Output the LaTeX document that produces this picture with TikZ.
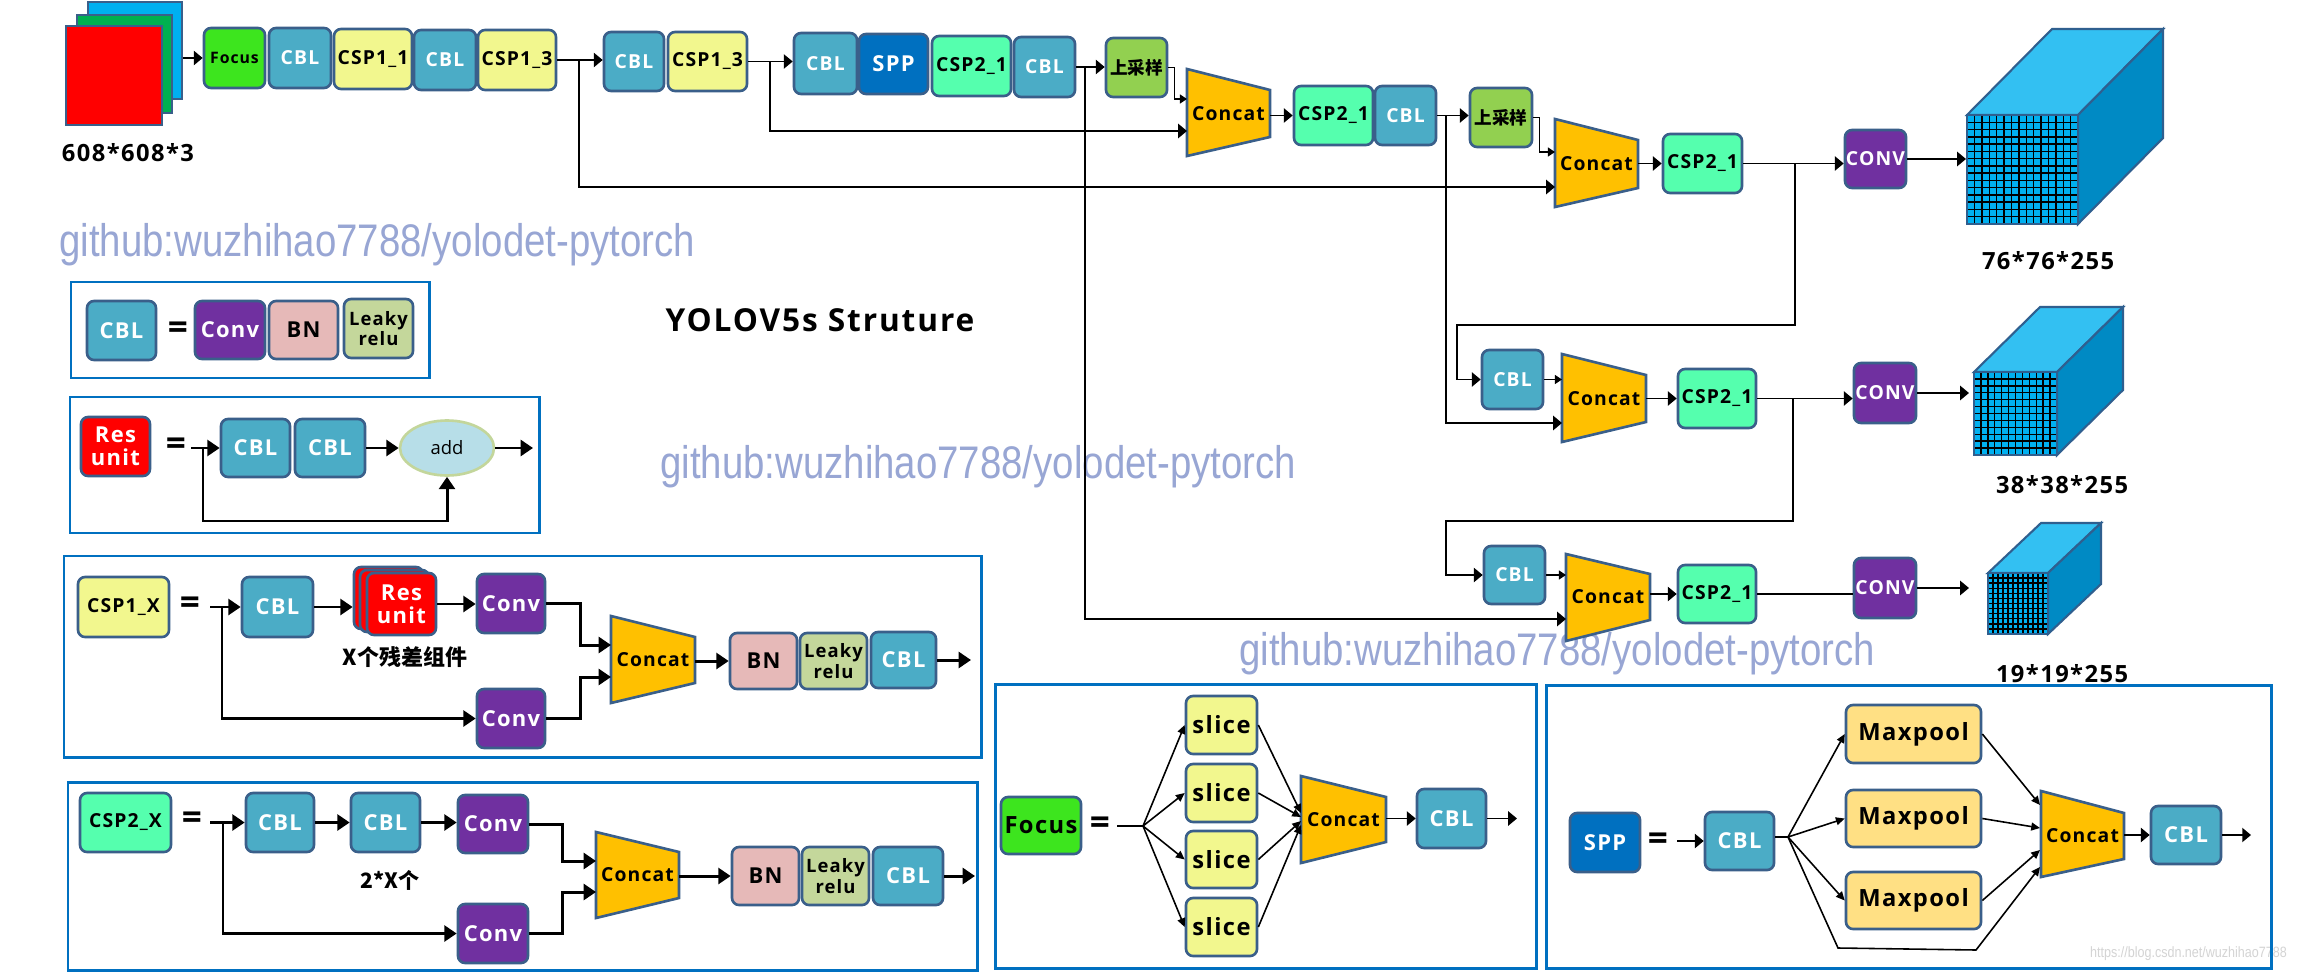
\documentclass[tikz,border=0pt]{standalone}
\usepackage{fontspec}
\setmainfont{Open Sans}[LetterSpace=6]
\newfontfamily\cjk{Noto Sans CJK SC}
\newfontfamily\wmfont{Liberation Sans}[FakeStretch=0.84]
\newfontfamily\plainfont{Open Sans}
\usetikzlibrary{arrows.meta,shapes.geometric}
\definecolor{bord}{HTML}{3A5F8A}
\definecolor{cblcol}{HTML}{4BACC6}
\definecolor{focuscol}{HTML}{3DE51E}
\definecolor{csp1col}{HTML}{F2F78E}
\definecolor{csp2col}{HTML}{55FFAE}
\definecolor{sppcol}{HTML}{0070C0}
\definecolor{upcol}{HTML}{92D050}
\definecolor{concol}{HTML}{FFC000}
\definecolor{convcol}{HTML}{7030A0}
\definecolor{bncol}{HTML}{E6B9B8}
\definecolor{lrcol}{HTML}{C4D79B}
\definecolor{rescol}{HTML}{FF0000}
\definecolor{mpcol}{HTML}{FFE084}
\definecolor{addcol}{HTML}{B7DEE8}
\definecolor{addbord}{HTML}{C3D69B}
\definecolor{framecol}{HTML}{0070C0}
\definecolor{wmcol}{RGB}{152,166,212}
\definecolor{cubefront}{HTML}{00B0F0}
\definecolor{cubetop}{HTML}{33C0F2}
\definecolor{cubeside}{HTML}{008AC4}
\definecolor{cubebord}{HTML}{2F5F8F}
\definecolor{imgblue}{HTML}{00B0F0}
\definecolor{imggreen}{HTML}{00B050}
\definecolor{csdncol}{HTML}{D4D4D4}

\tikzset{
  bx/.style={draw=bord, line width=1.5pt, rounded corners=4pt, inner sep=0pt, align=center},
  imgS/.style={draw=bord, line width=1pt, inner sep=0pt},
  cblS/.style={bx, fill=cblcol, text=white},
  focusS/.style={bx, fill=focuscol, text=black},
  csp1S/.style={bx, fill=csp1col, text=black},
  csp2S/.style={bx, fill=csp2col, text=black},
  sppS/.style={bx, fill=sppcol, text=white},
  upS/.style={bx, fill=upcol, text=black},
  convS/.style={bx, fill=convcol, text=white},
  bnS/.style={bx, fill=bncol, text=black},
  lrS/.style={bx, fill=lrcol, text=black},
  resS/.style={bx, fill=rescol, text=white},
  mpS/.style={bx, fill=mpcol, text=black},
  f8/.style={font=\bfseries\fontsize{9}{9}\selectfont},
  f10/.style={font=\bfseries\fontsize{11}{11}\selectfont},
  f12/.style={font=\bfseries\fontsize{12.5}{13}\selectfont},
  f13/.style={font=\bfseries\fontsize{13.5}{14}\selectfont},
  flr/.style={font=\bfseries\fontsize{10.5}{11.5}\selectfont},
  fcj/.style={font=\cjk\bfseries\fontsize{10}{11}\selectfont},
  concatS/.style={draw=bord, line width=1.5pt, fill=concol},
  ctext/.style={font=\bfseries\fontsize{11}{12}\selectfont, inner sep=0pt},
  cubeS/.style={draw=cubebord, line width=1.2pt},
  gridS/.style={draw=black, line width=0.8pt},
  frameS/.style={draw=framecol, line width=1.7pt},
  dimS/.style={font=\bfseries\fontsize{13.5}{15}\selectfont},
  eqS/.style={font=\plainfont\bfseries\fontsize{20}{20}\selectfont, inner sep=0pt},
  wmS/.style={font=\wmfont\fontsize{26}{26}\selectfont, text=wmcol, inner sep=0pt, anchor=west},
  ln/.style={line width=1pt},
  arr/.style={line width=1.1pt, -{Triangle[length=5pt,width=8pt]}},
  arrs/.style={line width=0.9pt, -{Triangle[length=4pt,width=5pt]}},
  arrL/.style={line width=1.7pt, -{Triangle[length=7pt,width=9pt]}},
  lnL/.style={line width=1.7pt},
  arrt/.style={line width=0.9pt, -{Triangle[length=5pt,width=4.5pt]}},
}

\newcommand{\boxat}[7]{\node[#2,minimum width={(#5-#3)*0.02cm},minimum height={(#6-#4)*0.02cm}] (#1) at ({(#3+#5)/2},{(#4+#6)/2}) {#7};}
\newcommand{\concatat}[7]{%
  \draw[concatS] (#2,#3) -- (#5,#6) -- (#5,#7) -- (#2,#4) -- cycle;
  \node[ctext] (#1) at ({(#2+#5)/2},{(#6+#7)/2}) {Concat};}
\newcommand{\cubeat}[7]{%
  \draw[cubeS,fill=cubetop] (#1,#2) -- ({#1+#5},{#2-#6}) -- ({#3+#5},{#2-#6}) -- (#3,#2) -- cycle;
  \draw[cubeS,fill=cubeside] (#3,#2) -- ({#3+#5},{#2-#6}) -- ({#3+#5},{#4-#6}) -- (#3,#4) -- cycle;
  \fill[cubefront] (#1,#2) rectangle (#3,#4);
  \foreach \k in {1,...,#7}{
    \draw[gridS] ({#1+\k*(#3-#1)/(#7+1)},#2) -- ({#1+\k*(#3-#1)/(#7+1)},#4);
    \draw[gridS] (#1,{#2+\k*(#4-#2)/(#7+1)}) -- (#3,{#2+\k*(#4-#2)/(#7+1)});
  }
  \draw[cubeS] (#1,#2) rectangle (#3,#4);}

\begin{document}
\begin{tikzpicture}[x=0.02cm,y=-0.02cm]
\fill[white] (0,0) rectangle (2304,973);
\useasboundingbox (0,0) rectangle (2304,973);

% ---------- watermarks and title ----------
\node[wmS] (wm1) at (59,245) {github:wuzhihao7788/yolodet-pytorch};
\node[wmS] (wm2) at (660,467) {github:wuzhihao7788/yolodet-pytorch};
\node[wmS] (wm3) at (1239,654) {github:wuzhihao7788/yolodet-pytorch};
\node[font=\bfseries\fontsize{18}{19}\selectfont] (title) at (820,320) {YOLOV5s Struture};
\node[font=\wmfont\fontsize{8.5}{9}\selectfont, text=csdncol, anchor=east] (csdn) at (2293,954) {https://blog.csdn.net/wuzhihao7788};

% ---------- main network ----------
\boxat{imgb}{imgS,fill=imgblue}{88}{2}{182}{99}{}
\boxat{imgg}{imgS,fill=imggreen}{77}{15}{172}{113}{}
\boxat{imgr}{imgS,fill=rescol}{66}{26}{162}{125}{}
\node[dimS] (lab608) at (128,153) {608*608*3};

\boxat{focus1}{focusS,f8}{204}{28}{265}{88}{Focus}
\boxat{cbl1}{cblS,f10}{269}{28}{331}{88}{CBL}
\boxat{csp11}{csp1S,f10}{334}{29}{412}{89}{CSP1\_1}
\boxat{cbl2}{cblS,f10}{414}{30}{476}{90}{CBL}
\boxat{csp13a}{csp1S,f10}{478}{30}{556}{90}{CSP1\_3}
\boxat{cbl3}{cblS,f10}{604}{32}{664}{91}{CBL}
\boxat{csp13b}{csp1S,f10}{668}{32}{747}{91}{CSP1\_3}
\boxat{cbl4}{cblS,f10}{794}{33}{857}{94}{CBL}
\boxat{spp1}{sppS,f12}{859}{34}{928}{94}{SPP}
\boxat{csp21a}{csp2S,f10}{932}{36}{1011}{96}{CSP2\_1}
\boxat{cbl5}{cblS,f10}{1014}{37}{1075}{97}{CBL}
\boxat{up1}{upS,fcj}{1106}{38}{1167}{97}{上采样}
\concatat{concat1}{1187}{69}{156}{1270}{90}{137}
\boxat{csp21b}{csp2S,f10}{1294}{86}{1373}{145}{CSP2\_1}
\boxat{cbl6}{cblS,f10}{1375}{86}{1436}{145}{CBL}
\boxat{up2}{upS,fcj}{1470}{88}{1532}{147}{上采样}
\concatat{concat2}{1555}{119}{207}{1638}{140}{188}
\boxat{csp21c}{csp2S,f10}{1663}{134}{1742}{193}{CSP2\_1}
\boxat{conv1}{convS,f10}{1845}{130}{1906}{188}{CONV}
\cubeat{1967}{115}{2078}{224}{85}{86}{14}
\node[dimS] (lab76) at (2048,261) {76*76*255};

\boxat{cbl7}{cblS,f10}{1482}{350}{1543}{409}{CBL}
\concatat{concat3}{1562}{354}{442}{1646}{375}{422}
\boxat{csp21d}{csp2S,f10}{1678}{369}{1756}{428}{CSP2\_1}
\boxat{conv2}{convS,f10}{1854}{363}{1916}{423}{CONV}
\cubeat{1974}{372}{2057}{455}{66}{65}{11}
\node[dimS] (lab38) at (2062,485) {38*38*255};

\boxat{cbl8}{cblS,f10}{1484}{546}{1545}{604}{CBL}
\concatat{concat4}{1566}{554}{641}{1650}{574}{620}
\boxat{csp21e}{csp2S,f10}{1678}{565}{1756}{623}{CSP2\_1}
\boxat{conv3}{convS,f10}{1854}{558}{1916}{618}{CONV}
\cubeat{1988}{573}{2048}{634}{53}{50}{11}
\node[dimS] (lab19) at (2062,674) {19*19*255};

% coordinates on concat edges and cube faces
\coordinate (c1in1) at (1187,99);  \coordinate (c1in2) at (1187,131); \coordinate (c1out) at (1270,115.5);
\coordinate (c2in1) at (1555,152); \coordinate (c2in2) at (1555,187); \coordinate (c2out) at (1638,163.5);
\coordinate (c3in1) at (1562,379.5); \coordinate (c3in2) at (1562,423); \coordinate (c3out) at (1646,398.5);
\coordinate (c4in1) at (1566,575); \coordinate (c4in2) at (1566,619); \coordinate (c4out) at (1650,594);
\coordinate (cube1in) at (1966,159); \coordinate (cube2in) at (1969,393); \coordinate (cube3in) at (1969,588);

% main connectors
\draw[arr] (focus1.west -| imgb.east) -- (focus1.west);
\draw[arr] (csp13a.east) -- (csp13a.east -| cbl3.west);
\draw[arr] (csp13a.east -| 579,0) |- (c2in2);
\draw[arr] (csp13b.east) -- (csp13b.east -| cbl4.west);
\draw[arr] (csp13b.east -| 770,0) |- (c1in2);
\draw[arr] (cbl5.east) -- (cbl5.east -| up1.west);
\draw[arr] (cbl5.east -| 1085,0) |- (c4in2);
\draw[arrs] (up1.east) -- ++(6,0) |- (c1in1);
\draw[arr] (c1out) -- (c1out -| csp21b.west);
\draw[arr] (cbl6.east) -- (cbl6.east -| up2.west);
\draw[arr] (cbl6.east -| 1446,0) |- (c3in2);
\draw[arrs] (up2.east) -- ++(6,0) |- (c2in1);
\draw[arr] (c2out) -- (c2out -| csp21c.west);
\draw[arr] (csp21c.east) -- (csp21c.east -| conv1.west);
\draw[arr] (csp21c.east -| 1795,0) -- (1795,325) -- (1457,325) |- (cbl7.west);
\draw[arr] (conv1.east) -- (cube1in);
\draw[arrs] (cbl7.east) -- (c3in1);
\draw[arr] (c3out) -- (c3out -| csp21d.west);
\draw[arr] (csp21d.east) -- (csp21d.east -| conv2.west);
\draw[arr] (csp21d.east -| 1793,0) -- (1793,521) -- (1446,521) |- (cbl8.west);
\draw[arr] (conv2.east) -- (cube2in);
\draw[arrs] (cbl8.east) -- (c4in1);
\draw[arr] (c4out) -- (c4out -| csp21e.west);
\draw[ln] (csp21e.east) -- (csp21e.east -| conv3.west);
\draw[arr] (conv3.east) -- (cube3in);

% ---------- legend: CBL ----------
\draw[frameS] (71,282) rectangle (429,378);
\boxat{lcbl}{cblS,f12}{87}{301}{156}{360}{CBL}
\node[eqS] (eq1) at (178,331) {=};
\boxat{lconv}{convS,f12}{195}{301}{265}{359}{Conv}
\boxat{lbn}{bnS,f12}{269}{301}{338}{359}{BN}
\boxat{llr}{lrS,flr}{344}{299}{413}{358}{Leaky\\relu}

% ---------- legend: Res unit ----------
\draw[frameS] (70,397) rectangle (539,533);
\boxat{lres}{resS,f12}{81}{417}{150}{476}{Res\\unit}
\node[eqS] (eq2) at (176,447) {=};
\boxat{rcbl1}{cblS,f12}{221}{419}{290}{477}{CBL}
\boxat{rcbl2}{cblS,f12}{295}{419}{365}{477}{CBL}
\node[ellipse, draw=addbord, fill=addcol, line width=1.5pt, minimum width=1.88cm, minimum height=1.1cm, inner sep=0pt, font=\plainfont\fontsize{10.5}{11}\selectfont] (add) at (447,448) {add};
\coordinate (rs) at (191,448);
\coordinate (rout) at (533,448);
\draw[arrL] (rs) -- (rcbl1.west);
\draw[arrL] (203,448) -- (203,521) -| (add.south);
\draw[arrL] (rcbl2.east) -- (add.west);
\draw[arrL] (add.east) -- (rout);

% ---------- legend: CSP1_X ----------
\draw[frameS] (64,556) rectangle (981,757);
\boxat{c1x}{csp1S,f10}{78}{577}{169}{637}{CSP1\_X}
\node[eqS] (eq3) at (190,606) {=};
\boxat{c1cbl}{cblS,f12}{242}{577}{313}{637}{CBL}
\boxat{resb}{resS}{354}{567}{423}{629}{}
\boxat{resm}{resS}{360}{570}{429}{632}{}
\boxat{resf}{resS,f12}{367}{573}{436}{635}{Res\\unit}
\node[font=\cjk\bfseries\fontsize{12.5}{13}\selectfont] (xres) at (405,657) {X个残差组件};
\boxat{c1conv1}{convS,f12}{477}{574}{545}{633}{Conv}
\boxat{c1conv2}{convS,f12}{477}{689}{545}{748}{Conv}
\concatat{concat5}{611}{616}{703}{695}{637}{683}
\boxat{c1bn}{bnS,f12}{730}{633}{797}{689}{BN}
\boxat{c1lr}{lrS,flr}{800}{633}{867}{689}{Leaky\\relu}
\boxat{c1cbl2}{cblS,f12}{871}{632}{936}{688}{CBL}
\coordinate (s2) at (210,607);
\coordinate (c5in1) at (611,645); \coordinate (c5in2) at (611,677); \coordinate (c5out) at (695,661);
\coordinate (c1end) at (971,660);
\draw[arrL] (s2) -- (c1cbl.west);
\draw[arrL] (222,607) |- (c1conv2.west);
\draw[arrL] (c1cbl.east) -- (c1cbl.east -| resb.west);
\draw[arrL] (resf.east) -- (resf.east -| c1conv1.west);
\draw[arrL] (c1conv1.east) -- ++(34,0) |- (c5in1);
\draw[arrL] (c1conv2.east) -- ++(34,0) |- (c5in2);
\draw[arrL] (c5out) -- (c5out -| c1bn.west);
\draw[arrL] (c1cbl2.east) -- (c1end);

% ---------- legend: CSP2_X ----------
\draw[frameS] (68,782) rectangle (977,970);
\boxat{c2x}{csp2S,f10}{80}{793}{171}{852}{CSP2\_X}
\node[eqS] (eq4) at (192,821) {=};
\boxat{c2cbl1}{cblS,f12}{246}{793}{314}{852}{CBL}
\boxat{c2cbl2}{cblS,f12}{351}{793}{420}{852}{CBL}
\boxat{c2conv1}{convS,f12}{458}{795}{528}{853}{Conv}
\node[font=\cjk\bfseries\fontsize{12}{13}\selectfont] (x2) at (390,880) {2*X个};
\boxat{c2conv2}{convS,f12}{458}{904}{528}{963}{Conv}
\concatat{concat6}{596}{832}{918}{679}{852}{898}
\boxat{c2bn}{bnS,f12}{732}{847}{799}{905}{BN}
\boxat{c2lr}{lrS,flr}{802}{847}{869}{905}{Leaky\\relu}
\boxat{c2cbl3}{cblS,f12}{873}{847}{943}{905}{CBL}
\coordinate (s3) at (210,822.5);
\coordinate (c6in1) at (596,861); \coordinate (c6in2) at (596,892); \coordinate (c6out) at (679,876);
\coordinate (c2end) at (975,876);
\draw[arrL] (s3) -- (c2cbl1.west);
\draw[arrL] (223,822.5) |- (c2conv2.west);
\draw[arrL] (c2cbl1.east) -- (c2cbl2.west);
\draw[arrL] (c2cbl2.east) -- (c2cbl2.east -| c2conv1.west);
\draw[arrL] (c2conv1.east) -- ++(33,0) |- (c6in1);
\draw[arrL] (c2conv2.east) -- ++(33,0) |- (c6in2);
\draw[arrL] (c6out) -- (c6out -| c2bn.west);
\draw[arrL] (c2cbl3.east) -- (c2end);

% ---------- legend: Focus ----------
\draw[frameS] (995,684) rectangle (1536,968);
\boxat{ffocus}{focusS,f13}{1001}{797}{1081}{854}{Focus}
\node[eqS] (eq5) at (1100,826) {=};
\boxat{sl1}{csp1S,f13}{1186}{696}{1257}{754}{slice}
\boxat{sl2}{csp1S,f13}{1186}{764}{1257}{822}{slice}
\boxat{sl3}{csp1S,f13}{1186}{831}{1257}{888}{slice}
\boxat{sl4}{csp1S,f13}{1186}{898}{1257}{956}{slice}
\concatat{concat7}{1301}{776}{863}{1386}{797}{842}
\boxat{fcbl}{cblS,f12}{1417}{789}{1486}{848}{CBL}
\coordinate (s4) at (1117,826); \coordinate (f0) at (1143,826);
\coordinate (c7in1) at (1301,813); \coordinate (c7in2) at (1301,817);
\coordinate (c7in3) at (1301,821); \coordinate (c7in4) at (1301,825);
\coordinate (c7out) at (1386,818.5); \coordinate (fend) at (1517,818.5);
\draw[ln] (s4) -- (f0);
\foreach \i in {1,...,4} { \draw[arrt] (f0) -- (sl\i.west); \draw[arrt] (sl\i.east) -- (c7in\i); }
\draw[arr] (c7out) -- (fcbl.west);
\draw[arr] (fcbl.east) -- (fend);

% ---------- legend: SPP ----------
\draw[frameS] (1546,685) rectangle (2271,968);
\boxat{sspp}{sppS,f12}{1570}{813}{1640}{872}{SPP}
\node[eqS] (eq6) at (1658,842) {=};
\boxat{scbl}{cblS,f12}{1705}{812}{1774}{870}{CBL}
\boxat{mp1}{mpS,f13}{1846}{705}{1981}{763}{Maxpool}
\boxat{mp2}{mpS,f13}{1846}{790}{1981}{847}{Maxpool}
\boxat{mp3}{mpS,f13}{1846}{872}{1981}{929}{Maxpool}
\concatat{concat8}{2041}{791}{877}{2124}{813}{859}
\boxat{scbl2}{cblS,f12}{2151}{806}{2221}{864}{CBL}
\coordinate (s5) at (1677,841); \coordinate (f1) at (1788,837);
\coordinate (c8in1) at (2040,805); \coordinate (c8in2) at (2040,828);
\coordinate (c8in3) at (2040,850); \coordinate (c8in4) at (2040,867);
\coordinate (c8out) at (2124,835); \coordinate (send) at (2251,835);
\draw[arr] (s5) -- (scbl.west);
\draw[ln] (scbl.east |- f1) -- (f1);
\draw[arrt] (f1) -- (mp1.west);
\draw[arrt] (f1) -- (mp2.west);
\draw[arrt] (f1) -- (mp3.west);
\draw[arrt] (mp1.east) -- (c8in1);
\draw[arrt] (mp2.east) -- (c8in2);
\draw[arrt] (mp3.east) -- (c8in3);
\draw[arrt] (f1) -- (1838,948) -- (1976,950) -- (c8in4);
\draw[arr] (c8out) -- (scbl2.west);
\draw[arr] (scbl2.east) -- (send);
\end{tikzpicture}
\end{document}
